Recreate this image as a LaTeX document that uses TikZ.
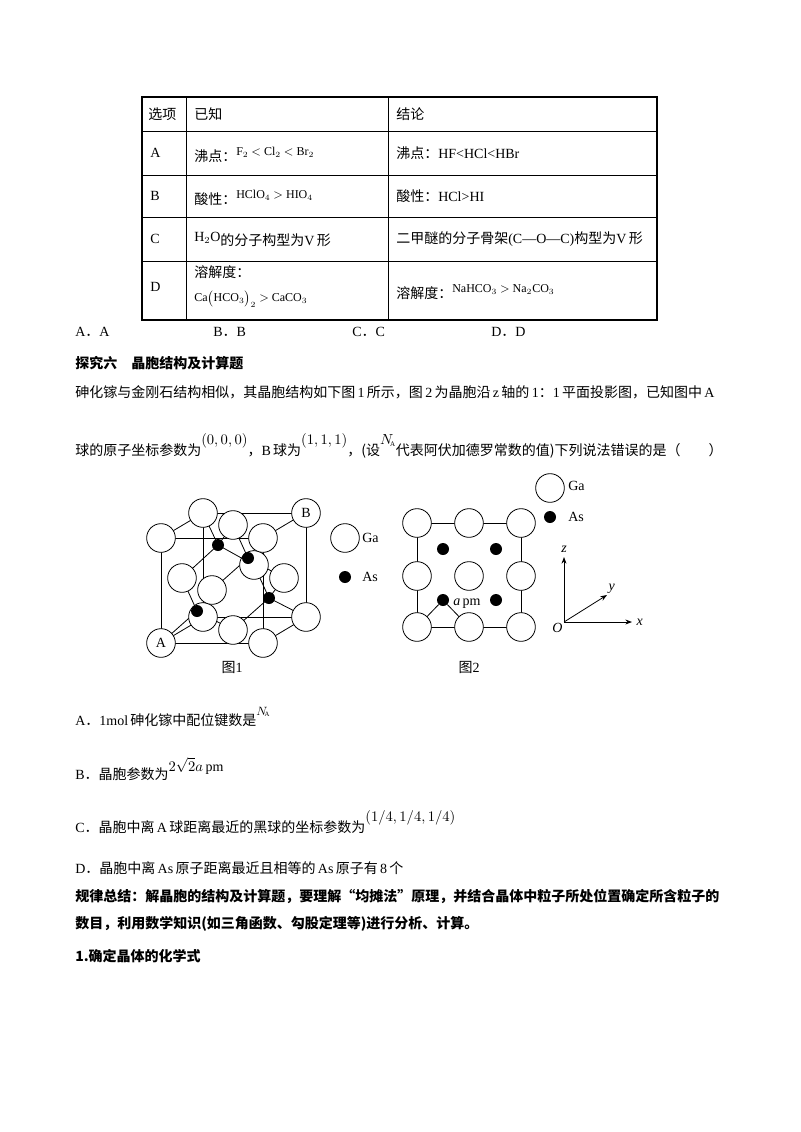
\documentclass[tikz,border=0pt]{standalone}
\usepackage{fontspec}
\setmainfont{Liberation Serif}
\newfontfamily\cjk{Noto Sans CJK SC}
\newcommand\zh[1]{{\cjk #1}}
\usetikzlibrary{arrows.meta}
\begin{document}
\begin{tikzpicture}[x=0.75pt,y=-0.75pt,font=\fontsize{10.5pt}{12pt}\selectfont,
 t/.style={anchor=west,inner sep=0pt},
 ga/.style={circle,draw,fill=white,minimum size=21.5pt,inner sep=0pt,line width=0.6pt},
 as/.style={circle,fill=black,minimum size=9pt,inner sep=0pt},
 ln/.style={line width=0.6pt}]
\useasboundingbox (0,0) rectangle (800,1132);
% table
\draw[line width=0.8pt] (142,97) rectangle (657,320);
\foreach \y in {131,175,217,261} \draw[ln] (142,\y) -- (657,\y);
\draw[ln] (186,97) -- (186,320); \draw[ln] (388,97) -- (388,320);
\node[t] (h1) at (148,114) {\zh{选项}};
\node[t] (h2) at (194,114) {\zh{已知}};
\node[t] (h3) at (396,114) {\zh{结论}};
\node[t] (ra) at (150,153) {A};
\node[t] (a1) at (194,155) {\zh{沸点：}\raisebox{4pt}{\small F$_2$ $<$ Cl$_2$ $<$ Br$_2$}};
\node[t] (a2) at (396,153) {\zh{沸点：}HF<HCl<HBr};
\node[t] (rb) at (150,196) {B};
\node[t] (b1) at (194,198) {\zh{酸性：}\raisebox{4pt}{\small HClO$_4$ $>$ HIO$_4$}};
\node[t] (b2) at (396,196) {\zh{酸性：}HCl>HI};
\node[t] (rc) at (150,239) {C};
\node[t] (c1) at (194,239) {\raisebox{3pt}{H$_2$O}\zh{的分子构型为}V\,\zh{形}};
\node[t] (c2) at (396,239) {\zh{二甲醚的分子骨架}(C—O—C)\zh{构型为}V\,\zh{形}};
\node[t] (rd) at (150,287) {D};
\node[t] (d1) at (194,272) {\zh{溶解度：}};
\node[t] (d1b) at (194,299) {\small Ca$\bigl($HCO$_3\bigr)_2$ $>$ CaCO$_3$};
\node[t] (d2) at (396,292) {\zh{溶解度：}\raisebox{4pt}{\small NaHCO$_3$ $>$ Na$_2$CO$_3$}};
% answers
\node[t] (oa) at (75,332) {A\zh{．}A};
\node[t] (ob) at (213,332) {B\zh{．}B};
\node[t] (oc) at (352,332) {C\zh{．}C};
\node[t] (od) at (491,332) {D\zh{．}D};
\node[t] (sec) at (75,363) {\cjk\bfseries 探究六\quad 晶胞结构及计算题};
\node[t] (p1) at (75,392) {\zh{砷化镓与金刚石结构相似，其晶胞结构如下图}\,1\,\zh{所示，图}\,2\,\zh{为晶胞沿}\,z\,\zh{轴的}\,1\zh{：}1\,\zh{平面投影图，已知图中}\,A};
\node[t] (p2) at (75,446) {\zh{球的原子坐标参数为}\raisebox{8pt}{$(0,0,0)$}\zh{，}B\,\zh{球为}\raisebox{8pt}{$(1,1,1)$}\zh{，(设}\raisebox{8pt}{$N_{\!\scriptscriptstyle\mathrm A}$}\zh{代表阿伏加德罗常数的值)下列说法错误的是（\qquad）}};
% fig 1
\draw[ln] (161,538) rectangle (263,643);
\draw[ln] (203,513) rectangle (306,617);
\foreach \a/\b in {161/538,263/538,161/643,263/643}
  \draw[ln] (\a,\b) -- ++(42,-25);
\coordinate (s1) at (197,611); \coordinate (s2) at (218,545);
\coordinate (s3) at (248,558); \coordinate (s4) at (269,598);
\draw[ln] (s1) -- (161,643); \draw[ln] (s1) -- (212,590); \draw[ln] (s1) -- (182,578); \draw[ln] (s1) -- (233,630);
\draw[ln] (s2) -- (203,513); \draw[ln] (s2) -- (233,525); \draw[ln] (s2) -- (182,578); \draw[ln] (s2) -- (254,565);
\draw[ln] (s3) -- (263,538); \draw[ln] (s3) -- (233,525); \draw[ln] (s3) -- (212,590); \draw[ln] (s3) -- (284,578);
\draw[ln] (s4) -- (306,617); \draw[ln] (s4) -- (233,630); \draw[ln] (s4) -- (284,578); \draw[ln] (s4) -- (254,565);
\node[ga] (g5) at (203,617) {};
\node[ga] (g6) at (306,617) {};
\node[ga] (g4) at (203,513) {};
\node[ga] (B) at (306,513) {B};
\node[ga] (fb) at (254,565) {};
\node[ga] (ft) at (233,525) {};
\node[ga] (fl) at (182,578) {};
\node[ga] (fr) at (284,578) {};
\node[ga] (fbo) at (233,630) {};
\node[as] (a4) at (s4) {}; \node[as] (a3) at (s3) {}; \node[as] (a2) at (s2) {};
\node[ga] (ff) at (212,590) {};
\node[as] (a1) at (s1) {};
\node[ga] (A) at (161,643) {A};
\node[ga] (g2) at (263,643) {};
\node[ga] (g1) at (161,538) {};
\node[ga] (g3) at (263,538) {};
\node[ga] (lg) at (345,538) {}; \node[t] (lgt) at (362,538) {Ga};
\node[as] (la) at (345,577) {}; \node[t] (lat) at (362,577) {As};
\node (f1) at (232,667) {\zh{图}1};
% fig 2
\draw[ln] (417,523) rectangle (521,627);
\node[as] (q1) at (443,549) {}; \node[as] (q2) at (496,549) {};
\node[as] (q3) at (443,600) {}; \node[as] (q4) at (496,600) {};
\draw[ln] (417,627) -- (q3) -- (469,627);
\foreach \xx in {417,469,521} \foreach \yy in {523,576,627} \node[ga] at (\xx,\yy) {};
\node[t] (apm) at (453,604) {\textit{a}\,pm};
\node[ga] (lg2) at (550,488) {}; \node[t] at (568,486) {Ga};
\node[as] (la2) at (550,517) {}; \node[t] at (568,517) {As};
\coordinate (O) at (564,622);
\draw[ln,-{Stealth[length=5pt]}] (O) -- (564,557) coordinate (zz);
\draw[ln,-{Stealth[length=5pt]}] (O) -- (632,622) coordinate (xx);
\draw[ln,-{Stealth[length=5pt]}] (O) -- (607,595) coordinate (yy);
\node[above] at (zz) {\textit{z}};
\node[right] at (xx) {\textit{x}};
\node[anchor=south west,inner sep=1pt] at (yy) {\textit{y}};
\node[anchor=north east,inner sep=1pt] at (O) {\textit{O}};
\node (f2) at (469,667) {\zh{图}2};
% options
\node[t] (oA) at (75,717) {A\zh{．}1mol\,\zh{砷化镓中配位键数是}\raisebox{8pt}{\small$N_{\!\scriptscriptstyle\mathrm A}$}};
\node[t] (oB) at (75,769) {B\zh{．晶胞参数为}\raisebox{6pt}{$2\sqrt2 a\,\mathrm{pm}$}};
\node[t] (oC) at (75,822) {C\zh{．晶胞中离}\,A\,\zh{球距离最近的黑球的坐标参数为}\raisebox{8pt}{$\bigl(1/4,1/4,1/4\bigr)$}};
\node[t] (oD) at (75,868) {D\zh{．晶胞中离}\,As\,\zh{原子距离最近且相等的}\,As\,\zh{原子有}\,8\,\zh{个}};
\node[t] (r1) at (75,896) {\cjk\bfseries 规律总结：解晶胞的结构及计算题，要理解“均摊法”原理，并结合晶体中粒子所处位置确定所含粒子的};
\node[t] (r2) at (75,924) {\cjk\bfseries 数目，利用数学知识(如三角函数、勾股定理等)进行分析、计算。};
\node[t] (r3) at (75,956) {\cjk\bfseries 1.确定晶体的化学式};
\end{tikzpicture}
\end{document}
